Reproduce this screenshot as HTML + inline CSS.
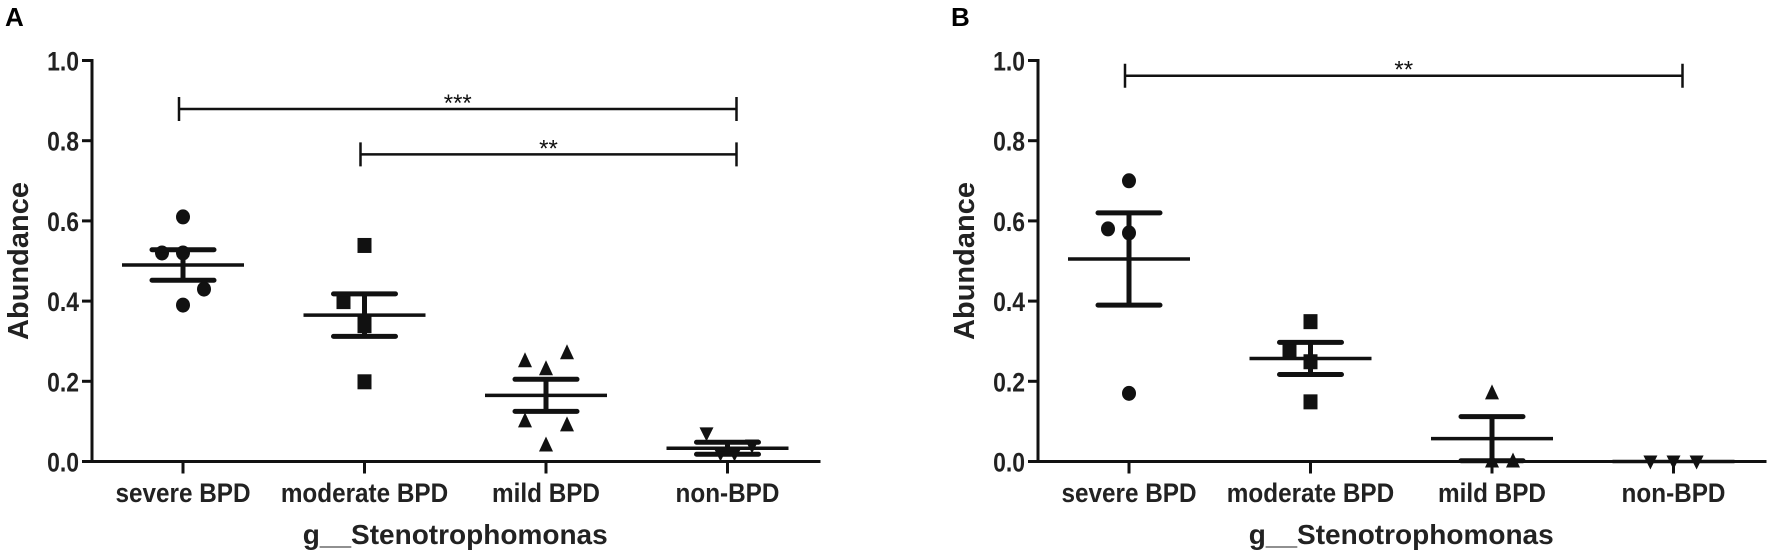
<!DOCTYPE html>
<html><head><meta charset="utf-8"><style>
body{margin:0;background:#fff;}
svg{display:block;font-family:"Liberation Sans",sans-serif;}
</style></head><body>
<svg id="chart" width="1772" height="558"></svg>
<script>
// Panel A data
const categories = ["severe BPD","moderate BPD","mild BPD","non-BPD"];
const yTicks = [0.0,0.2,0.4,0.6,0.8,1.0];
const aValues = [[0.61,0.52,0.52,0.43,0.39],[0.54,0.40,0.35,0.34,0.20],[0.27,0.25,0.23,0.10,0.09,0.04],[0.07,0.04,0.02,0.02]];
const aJitter = [[0,-0.3,0,0.3,0],[0,-0.3,0,0,0],[0.3,-0.3,0,-0.3,0.3,0],[-0.3,0.35,-0.1,0.1]];
const aMean = [0.49,0.365,0.165,0.033];
const aSem = [0.038,0.053,0.04,0.015];
// Panel B data
const bValues = [[0.70,0.58,0.57,0.17],[0.35,0.28,0.25,0.15],[0.17,0.0,0.0],[0.0,0.0,0.0]];
const bJitter = [[0,-0.3,0,0],[0,-0.3,0,0],[0,0,0.3],[-0.33,0,0.33]];
const bMean = [0.505,0.257,0.057,0.0];
const bSem = [0.115,0.04,0.055,0.0];
const aBrackets = [[0,3,0.879,"***"],[1,3,0.766,"**"]];
const bBrackets = [[0,3,0.962,"**"]];
const markers = ["circle","square","tri-up","tri-down"];

const NS="http://www.w3.org/2000/svg";
const svg=document.getElementById('chart');
function mk(tag,attrs,parent){const e=document.createElementNS(NS,tag);for(const k in attrs)e.setAttribute(k,attrs[k]);(parent||svg).appendChild(e);return e;}

function panel(letter,ox,values,jitter,mean,sem,brackets){
  const y0=461.5,y1=60.5,axX=ox,step=181.5,first=ox+91;
  const Y=v=>y0-v*(y0-y1);
  const X=i=>first+i*step;
  const g=mk('g',{});
  
  
  const L=mk('text',{x:ox-87,y:26,'font-size':26,'font-weight':'bold'},g);L.textContent=letter;
  
  
  const ya=mk('line',{x1:axX,y1:y1-1.5,x2:axX,y2:y0+1.5,stroke:'#111','stroke-width':3},g);
  
  
  const xa=mk('line',{x1:axX-1.5,y1:y0,x2:X(3)+93,y2:y0,stroke:'#111','stroke-width':3},g);
  
  
  yTicks.forEach(t=>{
    mk('line',{x1:axX-10,y1:Y(t),x2:axX,y2:Y(t),stroke:'#111','stroke-width':3},g);
    const ax=axX-13;
    const tx=mk('text',{x:ax,y:Y(t)+10,'font-size':27,'font-weight':'bold','text-anchor':'end',fill:'#222',transform:`translate(${ax},0) scale(0.85,1) translate(${-ax},0)`},g);
    tx.textContent=t.toFixed(1);
    
    
  });
  const yt=mk('text',{x:0,y:0,'font-size':29,'font-weight':'bold','text-anchor':'middle',fill:'#222',transform:`translate(${ox-64},${Y(0.5)}) rotate(-90)`},g);
  yt.textContent='Abundance';
  
  
  categories.forEach((c,i)=>{
    mk('line',{x1:X(i),y1:y0,x2:X(i),y2:y0+12,stroke:'#111','stroke-width':3},g);
    const t=mk('text',{x:X(i),y:502,'font-size':27,'font-weight':'bold','text-anchor':'middle',fill:'#222',transform:`translate(${X(i)},0) scale(0.9,1) translate(${-X(i)},0)`},g);
    t.textContent=c;
    
    
  });
  const xt=mk('text',{x:X(1.5),y:544,'font-size':28,'font-weight':'bold','text-anchor':'middle',fill:'#222'},g);
  xt.textContent='g__Stenotrophomonas';
  
  
  values.forEach((arr,i)=>{
    arr.forEach((v,j)=>{
      const cy=Y(v);
      const cxx=X(i)+jitter[i][j]*70;
      let m;const kind=markers[i];
      if(kind==='circle')m=mk('ellipse',{cx:cxx,cy:cy,rx:7,ry:7.5,fill:'#111'},g);
      else if(kind==='square')m=mk('rect',{x:cxx-7,y:cy-7,width:14,height:15,fill:'#111'},g);
      else if(kind==='tri-up')m=mk('polygon',{points:`${cxx},${cy-9} ${cxx-7},${cy+6} ${cxx+7},${cy+6}`,fill:'#111'},g);
      else m=mk('polygon',{points:`${cxx},${cy+8} ${cxx-7},${cy-6} ${cxx+7},${cy-6}`,fill:'#111'},g);
      
      
    });
    const mx=X(i);
    const ml=mk('line',{x1:mx-61,y1:Y(mean[i]),x2:mx+61,y2:Y(mean[i]),stroke:'#111','stroke-width':3.5},g);
    
    
    if(sem[i]>0){
      const e=mk('path',{d:`M${mx-31},${Y(mean[i]+sem[i])}H${mx+31}M${mx-31},${Y(mean[i]-sem[i])}H${mx+31}M${mx},${Y(mean[i]+sem[i])}V${Y(mean[i]-sem[i])}`,stroke:'#111','stroke-width':5,'stroke-linecap':'round',fill:'none'},g);
      
      
    }
  });
  brackets.forEach(b=>{
    const [a,c,v,s]=b;const yy=Y(v);
    const xa1=X(a)-4,xc=X(c)+9;
    const p=mk('path',{d:`M${xa1},${yy-12}V${yy+12}M${xa1},${yy}H${xc}M${xc},${yy-12}V${yy+12}`,stroke:'#111','stroke-width':2.5,fill:'none'},g);
    
    
    const t=mk('text',{x:(xa1+xc)/2,y:yy+2,'font-size':24,'text-anchor':'middle',fill:'#111'},g);
    t.textContent=s;
    
    
  });
}
panel('A',92,aValues,aJitter,aMean,aSem,aBrackets);
panel('B',1038,bValues,bJitter,bMean,bSem,bBrackets);
</script>
</body></html>
